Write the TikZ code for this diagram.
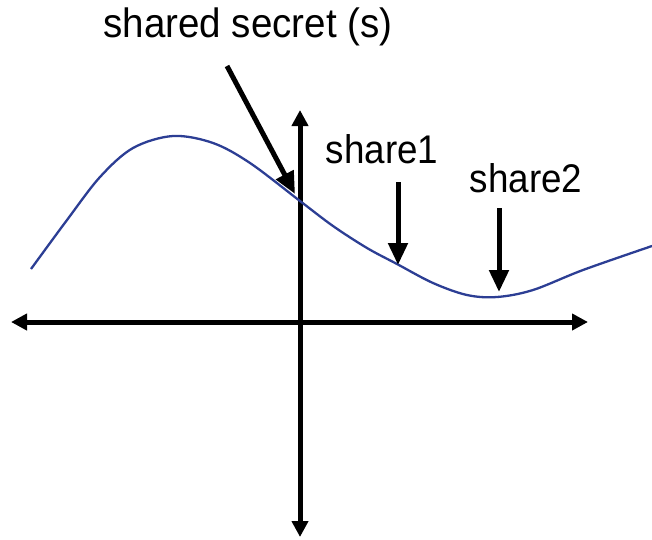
\documentclass[tikz,border=0pt]{standalone}
\usepackage{fontspec}
\setmainfont{Liberation Sans}
\newfontfamily\topfont[FakeStretch=0.94]{Liberation Sans}
\newfontfamily\sharefont[FakeStretch=0.92]{Liberation Sans}
\usetikzlibrary{arrows.meta}
\definecolor{curveblue}{RGB}{44,62,148}
\tikzset{
  axis/.style={line width=5pt,{Triangle[length=16pt,width=16pt]}-{Triangle[length=16pt,width=16pt]}},
  pointer/.style={line width=5pt,-{Triangle[length=22pt,width=19pt]}},
  label/.style={anchor=base,inner sep=0pt,font=\topfont\fontsize{41}{43}\selectfont},
  shlabel/.style={anchor=base,inner sep=0pt,font=\sharefont\fontsize{40}{42}\selectfont},
  poly/.style={line width=2.3pt,draw=curveblue}
}
\begin{document}
\begin{tikzpicture}[x=1pt,y=-1pt]
\useasboundingbox (0,0) rectangle (652,539);
% axes
\coordinate (xl) at (11,322);
\coordinate (xr) at (588,322);
\coordinate (yt) at (300,110);
\coordinate (yb) at (300,537);
\draw[axis] (xl) -- (xr);
\draw[axis] (yb) -- (yt);
% curve
\draw[poly] plot[smooth,tension=0.55] coordinates {
 (31,269) (67,220) (100,177) (133,148) (173,136) (213,143) (250,163)
 (300,201) (333,226) (367,248) (397,264) (433,283) (467,295) (497,297)
 (533,290) (583,270) (652,246)};
% labels
\node[label] (ss) at (248,37) {shared secret (s)};
\node[shlabel] (s1) at (382,163) {share1};
\node[shlabel] (s2) at (526,192) {share2};
% pointers
\coordinate (ssA) at (227,66);
\coordinate (ssB) at (295,194);
\coordinate (s1A) at (398,182);
\coordinate (s1B) at (398,265);
\coordinate (s2A) at (499,208);
\coordinate (s2B) at (499,292);
\draw[pointer] (ssA) -- (ssB);
\draw[pointer] (s1A) -- (s1B);
\draw[pointer] (s2A) -- (s2B);
\end{tikzpicture}
\end{document}
